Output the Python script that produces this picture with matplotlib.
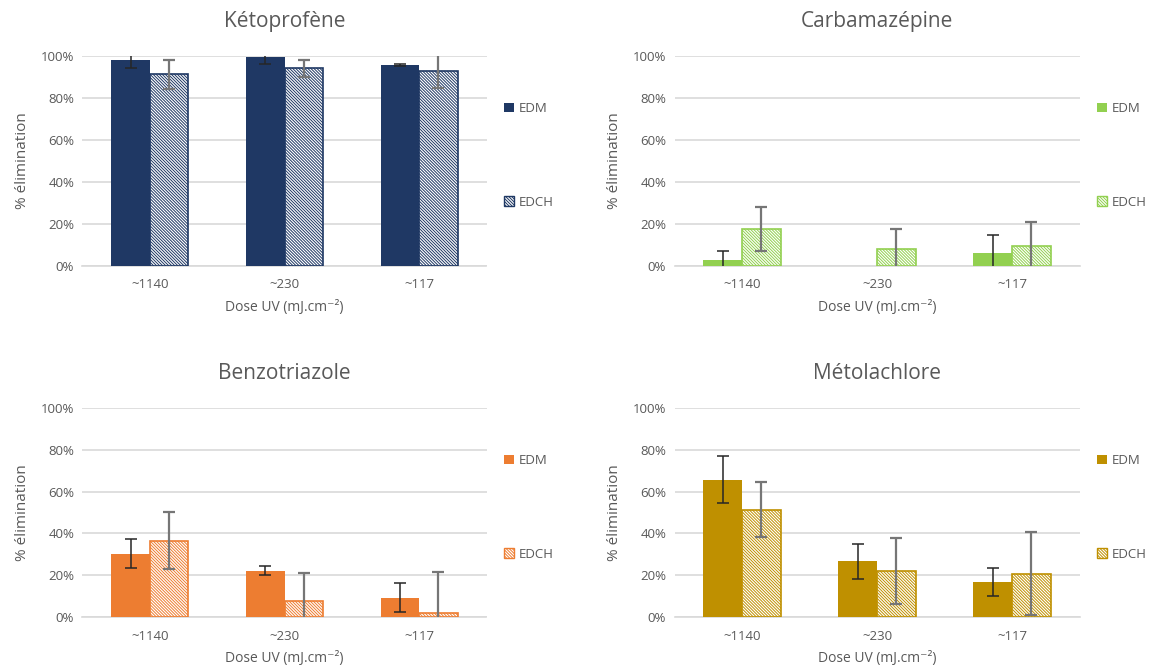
import matplotlib
matplotlib.use("Agg")
import matplotlib.pyplot as plt
import numpy as np
from matplotlib.patches import Patch
from matplotlib.ticker import PercentFormatter

plt.rcParams['font.family'] = ['Open Sans', 'DejaVu Sans']
plt.rcParams['hatch.linewidth'] = 0.7

categories = ["~1140", "~230", "~117"]
series = ["EDM", "EDCH"]

titles = ["Kétoprofène", "Carbamazépine", "Benzotriazole", "Métolachlore"]
colors = ["#1F3864", "#92D050", "#ED7D31", "#BF9000"]

# values in %, per compound: EDM, EDCH
keto_edm = [98.1, 99.4, 95.7]
keto_edch = [91.3, 94.1, 93.0]
keto_edm_err = [3.7, 3.0, 0.6]
keto_edch_err = [7.0, 4.0, 8.0]

carba_edm = [3.0, 0.0, 6.3]
carba_edch = [17.6, 8.0, 9.4]
carba_edm_err = [4.0, 0.0, 8.7]
carba_edch_err = [10.5, 9.5, 11.7]

benzo_edm = [30.3, 22.1, 9.3]
benzo_edch = [36.5, 7.5, 1.9]
benzo_edm_err = [6.9, 2.2, 6.9]
benzo_edch_err = [13.6, 13.7, 19.7]

meto_edm = [65.7, 26.6, 16.6]
meto_edch = [51.3, 22.1, 20.8]
meto_edm_err = [11.3, 8.2, 6.7]
meto_edch_err = [13.1, 15.9, 19.9]

data = [
    (keto_edm, keto_edch, keto_edm_err, keto_edch_err),
    (carba_edm, carba_edch, carba_edm_err, carba_edch_err),
    (benzo_edm, benzo_edch, benzo_edm_err, benzo_edch_err),
    (meto_edm, meto_edch, meto_edm_err, meto_edch_err),
]

W, H = 1154, 672
fig = plt.figure(figsize=(W / 100, H / 100), dpi=100)

# axes rectangles in pixels: (left, right, top(100%), bottom(0%))
rects = [
    (82.5, 486.5, 56, 266),
    (674.5, 1079.5, 56, 266),
    (82.5, 486.5, 408, 617),
    (674.5, 1079.5, 408, 617),
]

text_col = "#595959"
grid_col = "#D9D9D9"
hatch = "\\" * 11
bw = 0.286
x = np.arange(len(categories))


def draw_err(ax, xs, vals, errs, color, lw):
    xs = np.asarray(xs)
    vals = np.asarray(vals, dtype=float)
    errs = np.asarray(errs, dtype=float)
    m = vals > 0
    ax.errorbar(xs[m], vals[m], yerr=errs[m], fmt="none", ecolor=color, elinewidth=lw,
                capsize=4, capthick=lw, zorder=4)


for i, (ax_r, title, col, (edm, edch, edm_e, edch_e)) in enumerate(zip(rects, titles, colors, data)):
    l, r, t, b = ax_r
    ax = fig.add_axes([l / W, (H - b) / H, (r - l) / W, (b - t) / H])
    ax.set_xlim(-0.5, len(categories) - 0.5)
    ax.set_ylim(0, 100)
    ax.bar(x - bw / 2, edm, bw, color=col, linewidth=0, zorder=3)
    ax.bar(x + bw / 2, edch, bw, color="white", edgecolor=col, hatch=hatch, linewidth=1.2, zorder=3)
    draw_err(ax, x - bw / 2, edm, edm_e, "#262626", 1.1)
    draw_err(ax, x + bw / 2, edch, edch_e, "#767676", 1.6)
    ax.set_yticks(np.arange(0, 101, 20))
    ax.yaxis.set_major_formatter(PercentFormatter(decimals=0))
    ax.set_xticks(x)
    ax.set_xticklabels(categories)
    ax.grid(axis="y", color=grid_col, linewidth=1.2, zorder=0)
    ax.set_axisbelow(True)
    for s in ["top", "right", "left"]:
        ax.spines[s].set_visible(False)
    ax.spines["bottom"].set_color(grid_col)
    ax.spines["bottom"].set_linewidth(1.2)
    ax.tick_params(axis="both", length=0, colors=text_col, labelsize=9.5)
    ax.tick_params(axis="x", pad=9)
    ax.tick_params(axis="y", pad=6)
    ax.set_title(title, fontsize=15, color=text_col, pad=21)
    ax.set_xlabel("Dose UV (mJ.cm\u207b\u00b2)", color=text_col, fontsize=10, labelpad=6)
    ax.set_ylabel("% élimination", color=text_col, fontsize=11, labelpad=8)

    handles = [Patch(facecolor=col, edgecolor=col, linewidth=0),
               Patch(facecolor="white", edgecolor=col, hatch=hatch)]
    leg = ax.legend(handles, series, loc="upper left", bbox_to_anchor=(1.03, 0.805),
                    frameon=False, fontsize=9.5, labelspacing=6.1, handlelength=0.75,
                    handleheight=0.75, handletextpad=0.35, borderaxespad=0)
    for txt in leg.get_texts():
        txt.set_color(text_col)

fig.savefig("out.png", dpi=100)
